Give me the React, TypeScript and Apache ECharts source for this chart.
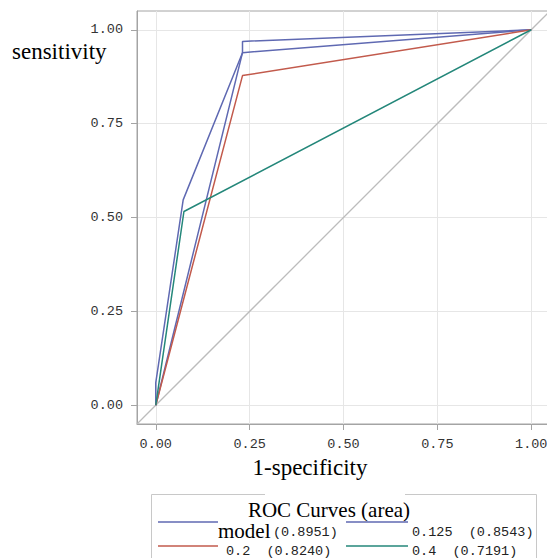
import React, { useEffect, useRef } from "react";
import * as echarts from "echarts";

// ROC curve points (1-specificity, sensitivity)
const modelFpr = [0, 0, 0.073, 0.231, 0.231, 1];
const modelTpr = [0, 0.06, 0.547, 0.939, 0.969, 1];
const c125Fpr = [0, 0.231, 1];
const c125Tpr = [0, 0.939, 1];
const c2Fpr = [0, 0.231, 1];
const c2Tpr = [0, 0.878, 1];
const c4Fpr = [0, 0.075, 1];
const c4Tpr = [0, 0.516, 1];
const chanceLine = [-0.05, 1.05];

const xTicks = [0, 0.25, 0.5, 0.75, 1];
const yTicks = [0, 0.25, 0.5, 0.75, 1];

const seriesNames = ["model", "0.125", "0.2", "0.4"];
const seriesAreas = ["0.8951", "0.8543", "0.8240", "0.7191"];
const seriesColors = ["#5f69b2", "#5f69b2", "#c25a4c", "#24877a"];

const legendTitle = "ROC Curves (area)";
const xTitle = "1-specificity";
const yTitle = "sensitivity";

const zip = (xs: number[], ys: number[]) => xs.map((x, i) => [x, ys[i]]);

const MONO = "'Liberation Mono', 'DejaVu Sans Mono', monospace";
const SERIF = "'Liberation Serif', 'DejaVu Serif', serif";

export default function App() {
  const ref = useRef<HTMLDivElement>(null);
  useEffect(() => {
    if (!ref.current) return;
    const chart = echarts.init(ref.current, undefined, { renderer: "svg" });
    const curves = [
      zip(modelFpr, modelTpr),
      zip(c125Fpr, c125Tpr),
      zip(c2Fpr, c2Tpr),
      zip(c4Fpr, c4Tpr),
    ];
    const axisCommon = (ticks: number[], margin: number) => ({
      type: "value" as const,
      min: -0.05,
      max: 1.05,
      axisLine: { show: true, onZero: false, lineStyle: { color: "#a4a4a4", width: 1 } },
      axisTick: { show: true, length: 6, customValues: ticks, lineStyle: { color: "#a4a4a4" } },
      axisLabel: {
        customValues: ticks,
        formatter: (v: number) => v.toFixed(2),
        fontFamily: MONO,
        fontSize: 13.5,
        color: "#333",
        margin,
      },
      splitLine: { show: true, lineStyle: { color: "#e6e6e6", width: 1 } },
    });
    const lx1 = 158, lx2 = 218, rx1 = 346, rx2 = 408;
    const row1 = 522, row2 = 546;
    chart.setOption({
      animation: false,
      grid: {
        left: 137,
        top: 11,
        width: 413,
        height: 413,
        show: true,
        borderColor: "#a4a4a4",
        borderWidth: 1,
        backgroundColor: "#fff",
      },
      xAxis: axisCommon(xTicks, 13),
      yAxis: axisCommon(yTicks, 14),
      series: [
        {
          type: "line",
          data: [
            [chanceLine[0], chanceLine[0]],
            [chanceLine[1], chanceLine[1]],
          ],
          showSymbol: false,
          lineStyle: { color: "#bcbcbc", width: 1.3 },
          silent: true,
        },
        ...curves.map((d, i) => ({
          type: "line",
          name: seriesNames[i],
          data: d,
          showSymbol: false,
          lineStyle: { color: seriesColors[i], width: 1.5 },
        })),
      ],
      graphic: [
        { type: "text", left: 12, top: 40, style: { text: yTitle, font: `23px ${SERIF}`, fill: "#000" } },
        {
          type: "text",
          x: 310,
          y: 467,
          style: { text: xTitle, font: `23px ${SERIF}`, fill: "#000", textAlign: "center", textVerticalAlign: "middle" },
        },
        {
          type: "rect",
          shape: { x: 151.5, y: 494.5, width: 385, height: 90 },
          style: { fill: "#fff", stroke: "#c8c8c8", lineWidth: 1 },
        },
        {
          type: "rect",
          shape: { x: 265, y: 492, width: 140, height: 5 },
          style: { fill: "#fff" },
        },
        {
          type: "text",
          x: 329,
          y: 510,
          style: { text: legendTitle, font: `21px ${SERIF}`, fill: "#000", textAlign: "center", textVerticalAlign: "middle" },
        },
        { type: "line", shape: { x1: lx1, y1: row1, x2: lx2, y2: row1 }, style: { stroke: seriesColors[0], lineWidth: 1.5 } },
        { type: "line", shape: { x1: rx1, y1: row1, x2: rx2, y2: row1 }, style: { stroke: seriesColors[1], lineWidth: 1.5 } },
        { type: "line", shape: { x1: lx1, y1: row2, x2: lx2, y2: row2 }, style: { stroke: seriesColors[2], lineWidth: 1.5 } },
        { type: "line", shape: { x1: rx1, y1: row2, x2: rx2, y2: row2 }, style: { stroke: seriesColors[3], lineWidth: 1.5 } },
        {
          type: "text",
          x: 218,
          y: 531,
          style: { text: seriesNames[0], font: `21px ${SERIF}`, fill: "#000", textVerticalAlign: "middle" },
        },
        {
          type: "text",
          x: 273,
          y: 532,
          style: { text: `(${seriesAreas[0]})`, font: `13.5px ${MONO}`, fill: "#222", textVerticalAlign: "middle" },
        },
        {
          type: "text",
          x: 412,
          y: 532,
          style: { text: `${seriesNames[1]}  (${seriesAreas[1]})`, font: `13.5px ${MONO}`, fill: "#222", textVerticalAlign: "middle" },
        },
        {
          type: "text",
          x: 226,
          y: 551,
          style: { text: `${seriesNames[2]}  (${seriesAreas[2]})`, font: `13.5px ${MONO}`, fill: "#222", textVerticalAlign: "middle" },
        },
        {
          type: "text",
          x: 412,
          y: 551,
          style: { text: `${seriesNames[3]}  (${seriesAreas[3]})`, font: `13.5px ${MONO}`, fill: "#222", textVerticalAlign: "middle" },
        },
      ],
    });
    return () => chart.dispose();
  }, []);
  return (
    <div
      ref={ref}
      style={{ position: "fixed", left: 0, top: 0, width: 560, height: 558, background: "#fff" }}
    />
  );
}
